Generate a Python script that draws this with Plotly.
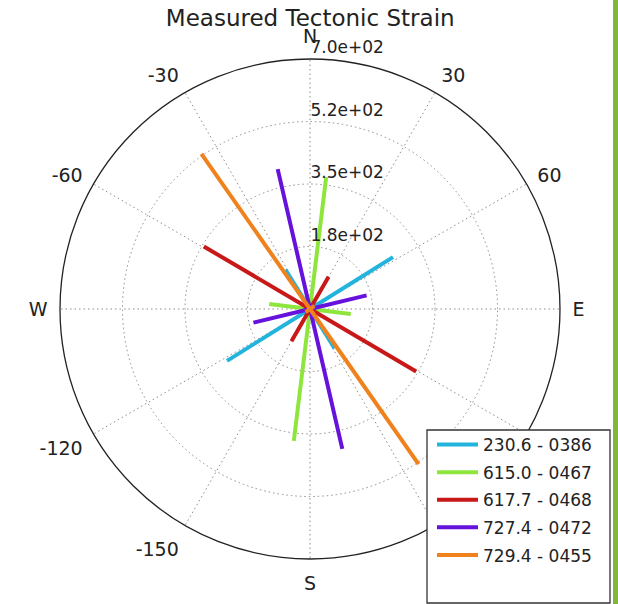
import plotly.graph_objects as go

# ---- data ----
series_labels = ["230.6 - 0386", "615.0 - 0467", "617.7 - 0468", "727.4 - 0472", "729.4 - 0455"]
series_colors = ["#22b4dc", "#8ee63c", "#c81818", "#6612dc", "#f0821e"]
major_azimuth = [58.0, 7.0, -59.5, -13.0, -35.0]
major_length = [274, 372, 345, 402, 530]
minor_azimuth = [-32.0, 97.0, 30.0, 76.5, 55.0]
minor_length = [130, 115, 104, 163, 15]

angle_ticks = [0, 30, 60, 90, 120, 150, 180, 210, 240, 270, 300, 330]
angle_labels = ["N", "30", "60", "E", "120", "150", "S", "-150", "-120", "W", "-60", "-30"]
radial_ticks = [175, 350, 525, 700]
radial_labels = ["1.8e+02", "3.5e+02", "5.2e+02", "7.0e+02"]

FONT = "DejaVu Sans"
L, T, W = 60, 59, 500  # plot area left, top, size (px)


def px_x(x):
    return (x - L) / W


def px_y(y):
    return 1 - (y - T) / W


fig = go.Figure()
for i, (lab, col, a1, l1, a2, l2) in enumerate(zip(series_labels, series_colors, major_azimuth,
                                                   major_length, minor_azimuth, minor_length)):
    r = [l1, 0, l1, None, l2, 0, l2]
    th = [a1, a1, a1 + 180, None, a2, a2, a2 + 180]
    fig.add_trace(go.Scatterpolar(r=r, theta=th, mode="lines", name=lab,
                                  legendgroup="g%d" % i,
                                  line=dict(color=col, width=4),
                                  connectgaps=False, hoverinfo="skip"))

fig.update_layout(
    width=618, height=604,
    paper_bgcolor="white",
    margin=dict(l=L, r=618 - L - W, t=T, b=604 - T - W),
    title=dict(text="Measured Tectonic Strain", x=0.502, xanchor="center",
               y=1 - 18 / 604, yref="container", yanchor="middle",
               font=dict(family=FONT, size=23, color="#222222")),
    font=dict(family=FONT, color="#222222"),
    polar=dict(
        bgcolor="white",
        domain=dict(x=[0, 1], y=[0, 1]),
        angularaxis=dict(rotation=90, direction="clockwise",
                         tickmode="array", tickvals=angle_ticks, ticktext=angle_labels,
                         tickfont=dict(size=19, family=FONT, color="#222222"),
                         ticks="outside", ticklen=8, tickcolor="rgba(0,0,0,0)",
                         showline=True, linecolor="#222222", linewidth=1.3,
                         showgrid=True, gridcolor="#8c8c8c", griddash="1.5px,3px", gridwidth=1),
        radialaxis=dict(range=[0, 700], angle=90, tickangle=90,
                        tickmode="array", tickvals=radial_ticks,
                        ticktext=[t + "<br> " for t in radial_labels],
                        tickfont=dict(size=17, family=FONT, color="#222222"),
                        showline=False, ticks="",
                        showgrid=True, gridcolor="#8c8c8c", griddash="1.5px,3px", gridwidth=1),
    ),
    legend=dict(x=px_x(432), y=px_y(427), xanchor="left", yanchor="top",
                bgcolor="rgba(0,0,0,0)", borderwidth=0,
                font=dict(family=FONT, size=17, color="#222222"),
                itemwidth=41, tracegroupgap=2.5),
    shapes=[
        dict(type="rect", xref="paper", yref="paper",
             x0=px_x(427), x1=px_x(610), y0=px_y(603), y1=px_y(430),
             line=dict(width=1.3, color="#333333"), fillcolor="white", layer="above"),
        dict(type="rect", xref="paper", yref="paper",
             x0=px_x(613), x1=px_x(619), y0=px_y(606), y1=px_y(-2),
             line=dict(width=0), fillcolor="#80b838", layer="above"),
    ],
)

fig.write_html("out.html")
